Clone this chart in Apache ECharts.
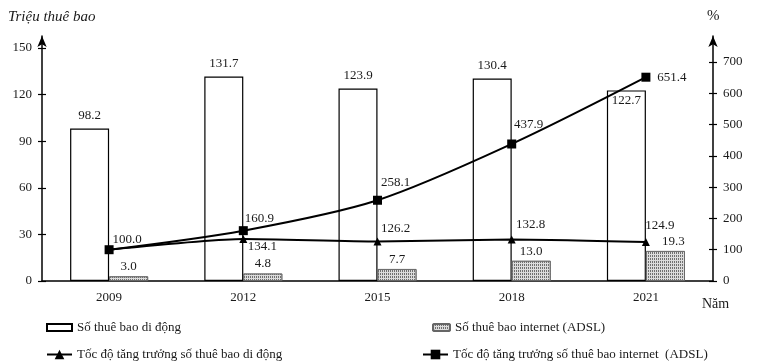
<!DOCTYPE html>
<html><head><meta charset="utf-8">
<script src="https://cdn.jsdelivr.net/npm/echarts@6/dist/echarts.min.js"></script>
<style>html,body{margin:0;padding:0;background:#fff}#c{width:757px;height:364px}</style>
</head><body><div id="c"></div>
<script>
const years = ['2009','2012','2015','2018','2021'];
const mobileSubs = [98.2, 131.7, 123.9, 130.4, 122.7];
const adslSubs = [3.0, 4.8, 7.7, 13.0, 19.3];
const mobileGrowth = [100.0, 134.1, 126.2, 132.8, 124.9];
const adslGrowth = [100.0, 160.9, 258.1, 437.9, 651.4];
const leftTicks = {min: 0, max: 150, interval: 30};
const rightTicks = {min: 0, max: 700, interval: 100};
const names = ['Số thuê bao di động','Số thuê bao internet (ADSL)','Tốc độ tăng trưởng số thuê bao di động','Tốc độ tăng trưởng số thuê bao internet  (ADSL)'];

const FONT = '"Liberation Serif", "DejaVu Serif", serif';
const TXT = '#1a1a1a';
const chart = echarts.init(document.getElementById('c'));

const adslGrowthOffsets = [[18,-10],[16,-12],[18,-18],[17,-19],[26,0]];
const mobileGrowthOffsets = [null,[19,8],[18,-13],[19,-15],[14,-16]];
const fmt1 = (p) => Number(p.value).toFixed(1);

const G = {left: 42, right: 44, bottom: 83};
function hiddenX(gi){ return {type:'category', data: years, gridIndex: gi, show: false, boundaryGap: true}; }

chart.setOption({
  animation: false,
  textStyle: {fontFamily: FONT},
  title: [
    {text: 'Triệu thuê bao', left: 3, top: 5, textStyle: {fontFamily: FONT, fontStyle: 'italic', fontWeight: 'normal', fontSize: 15, color: TXT}},
    {text: '%', left: 702, top: 4, textStyle: {fontFamily: FONT, fontWeight: 'normal', fontSize: 15, color: TXT}},
    {text: 'Năm', left: 697, top: 292, textStyle: {fontFamily: FONT, fontWeight: 'normal', fontSize: 14, color: TXT}}
  ],
  grid: [
    Object.assign({top: 48}, G),
    Object.assign({top: 62}, G),
    Object.assign({top: 36}, G),
    Object.assign({top: 48}, G),
    Object.assign({top: 62}, G)
  ],
  legend: [
    {data: [names[0]], left: 41, top: 316, itemWidth: 25, itemHeight: 7, icon: 'rect', textStyle: {fontFamily: FONT, fontSize: 13, color: TXT}},
    {data: [names[1]], left: 427, top: 316, itemWidth: 17, itemHeight: 7, textStyle: {fontFamily: FONT, fontSize: 13, color: TXT}},
    {data: [names[2]], left: 41, top: 343, itemWidth: 25, itemHeight: 12, textStyle: {fontFamily: FONT, fontSize: 13, color: TXT}},
    {data: [names[3]], left: 417, top: 343, itemWidth: 25, itemHeight: 12, textStyle: {fontFamily: FONT, fontSize: 13, color: TXT}}
  ],
  xAxis: [
    {type:'category', data: years, gridIndex: 0, boundaryGap: true,
     axisLine: {lineStyle: {color: '#000', width: 1.5}}, axisTick: {show: false},
     axisLabel: {fontFamily: FONT, fontSize: 13, color: TXT, margin: 10}},
    hiddenX(1), hiddenX(2), hiddenX(3), hiddenX(4)
  ],
  yAxis: [
    {type:'value', gridIndex: 0, position: 'left', min: leftTicks.min, max: leftTicks.max, interval: leftTicks.interval,
     axisLine: {show: false}, axisTick: {show: true, length: 4, lineStyle: {color: '#000', width: 1.2}},
     axisLabel: {fontFamily: FONT, fontSize: 13, color: TXT, margin: 10}, splitLine: {show: false}},
    {type:'value', gridIndex: 1, position: 'right', min: rightTicks.min, max: rightTicks.max, interval: rightTicks.interval,
     axisLine: {show: false}, axisTick: {show: true, length: 4, lineStyle: {color: '#000', width: 1.2}},
     axisLabel: {fontFamily: FONT, fontSize: 13, color: TXT, margin: 10}, splitLine: {show: false}},
    {type:'value', gridIndex: 2, position: 'left', min: 0, max: 1,
     axisLine: {show: true, symbol: ['none','arrow'], symbolSize: [7, 11], lineStyle: {color: '#000', width: 1.5}},
     axisTick: {show: false}, axisLabel: {show: false}, splitLine: {show: false}},
    {type:'value', gridIndex: 2, position: 'right', min: 0, max: 1,
     axisLine: {show: true, symbol: ['none','arrow'], symbolSize: [7, 11], lineStyle: {color: '#000', width: 1.5}},
     axisTick: {show: false}, axisLabel: {show: false}, splitLine: {show: false}},
    {type:'value', gridIndex: 3, position: 'left', min: leftTicks.min, max: leftTicks.max, interval: leftTicks.interval,
     axisLine: {show: false}, axisTick: {show: true, inside: true, length: 4, lineStyle: {color: '#000', width: 1.2}},
     axisLabel: {show: false}, splitLine: {show: false}},
    {type:'value', gridIndex: 4, position: 'right', min: rightTicks.min, max: rightTicks.max, interval: rightTicks.interval,
     axisLine: {show: false}, axisTick: {show: true, inside: true, length: 4, lineStyle: {color: '#000', width: 1.2}},
     axisLabel: {show: false}, splitLine: {show: false}}
  ],
  series: [
    {name: names[0], type: 'bar', xAxisIndex: 0, yAxisIndex: 0, barWidth: 39, barGap: '0%',
     itemStyle: {color: '#fff', borderColor: '#000', borderWidth: 1.2},
     label: {show: true, position: 'top', distance: 6, fontFamily: FONT, fontSize: 13, color: TXT, formatter: fmt1},
     data: mobileSubs.map((v,i) => i === 4 ? {value: v, label: {position: 'insideTop', distance: 4}} : v)},
    {name: names[1], type: 'bar', xAxisIndex: 0, yAxisIndex: 0, barWidth: 39, barGap: '0%',
     itemStyle: {color: '#dcdcdc', borderColor: '#666', borderWidth: 0.8,
       decal: {symbol: 'rect', symbolSize: 1, color: '#707070', dashArrayX: [1, 1], dashArrayY: [2, 1], rotation: 0}},
     label: {show: true, position: 'top', distance: 3, fontFamily: FONT, fontSize: 13, color: TXT, formatter: fmt1},
     data: adslSubs.map((v,i) => i === 4 ? {value: v, label: {offset: [8, 0]}} : v)},
    {name: names[2], type: 'line', xAxisIndex: 1, yAxisIndex: 1, smooth: 0.2,
     symbol: 'triangle', symbolSize: 8, lineStyle: {color: '#000', width: 2}, itemStyle: {color: '#000'},
     label: {show: false},
     data: mobileGrowth.map((v,i) => mobileGrowthOffsets[i] ? {value: v, label: {show: true, position: 'inside', offset: mobileGrowthOffsets[i], fontFamily: FONT, fontSize: 13, color: TXT, formatter: fmt1}} : v)},
    {name: names[3], type: 'line', xAxisIndex: 1, yAxisIndex: 1, smooth: 0.3,
     symbol: 'rect', symbolSize: 9, lineStyle: {color: '#000', width: 2}, itemStyle: {color: '#000'},
     data: adslGrowth.map((v,i) => ({value: v, label: {show: true, position: 'inside', offset: adslGrowthOffsets[i], fontFamily: FONT, fontSize: 13, color: TXT, formatter: fmt1}}))}
  ]
});
</script></body></html>
